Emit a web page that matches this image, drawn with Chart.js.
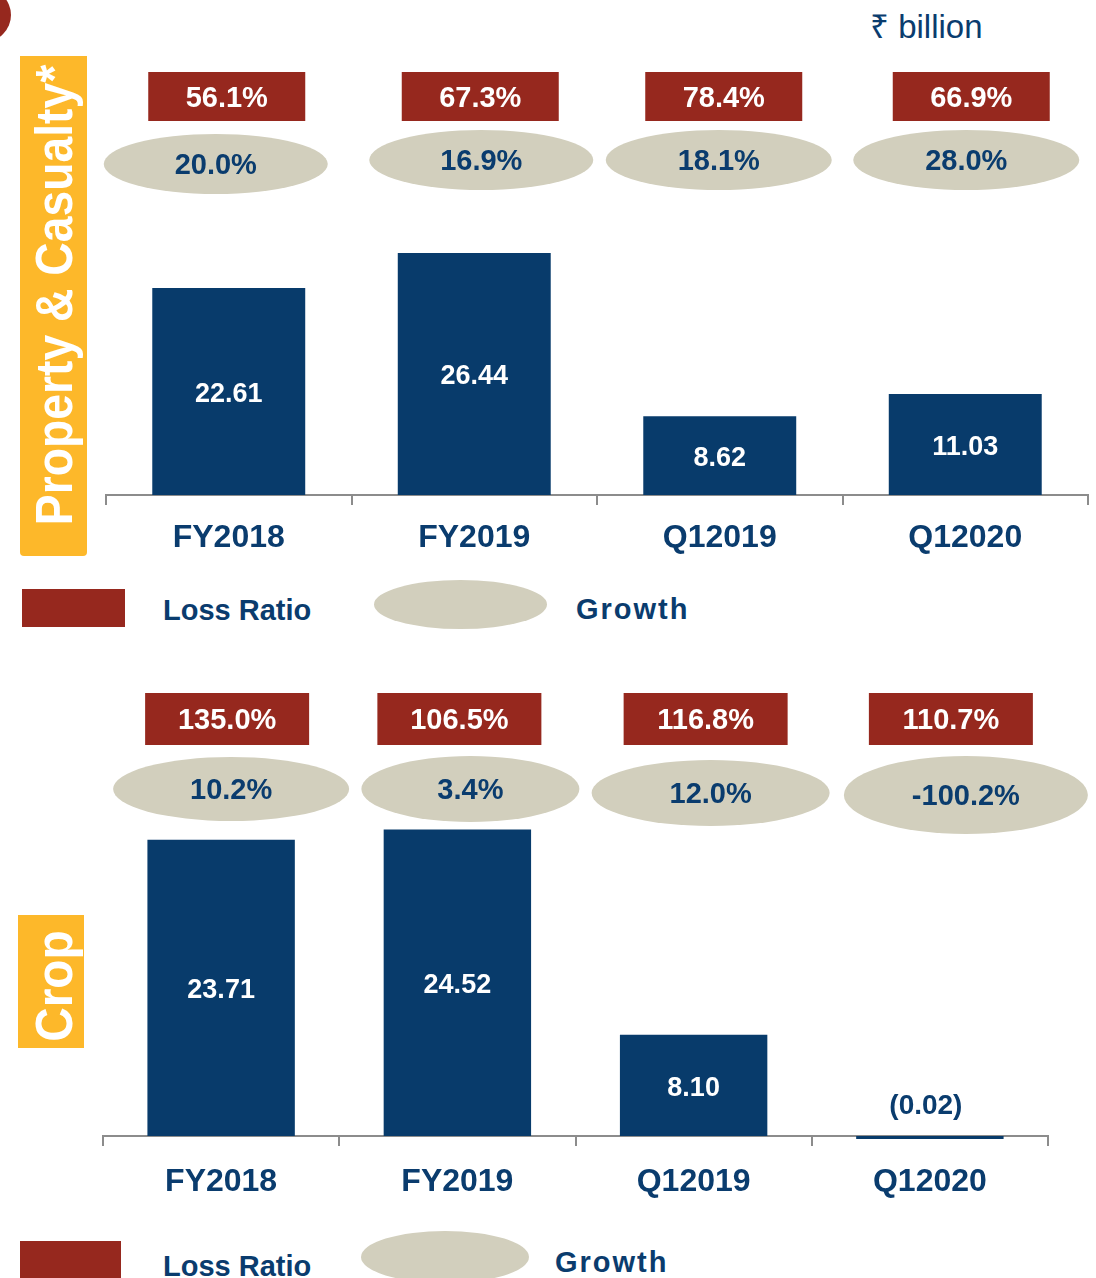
<!DOCTYPE html>
<html>
<head>
<meta charset="utf-8">
<title>Property &amp; Casualty / Crop</title>
<script src="https://cdn.jsdelivr.net/npm/chart.js@4.4.1/dist/chart.umd.min.js"></script>
<style>
  body { margin: 0; background: #fff; font-family: "Liberation Sans", Arial, sans-serif; }
  #page { position: relative; width: 1096px; height: 1278px; overflow: hidden; }
  canvas { position: absolute; left: 0; }
  .dot { position: absolute; left: -43px; top: -12px; width: 54px; height: 54px; border-radius: 50%; background: #96281E; }
  .unit { position: absolute; left: 870px; top: 10px; font-size: 33px; line-height: 33px; color: #0A3C6E; }
  .side { position: absolute; background: #FDB82A; }
  .vtext { position: absolute; width: 0; height: 0; }
  .vtext span { position: absolute; left: 0; top: 0; white-space: nowrap; color: #fff; font-weight: bold;
    font-size: 52px; line-height: 52px; transform: translate(-50%, -50%) rotate(-90deg) scaleX(0.92); }
  .vtext.long span { transform: translate(-50%, -50%) rotate(-90deg) scaleX(0.89); }
  .lg-box { position: absolute; background: #96281E; }
  .lg-ell { position: absolute; background: #D2CFBD; border-radius: 50%; }
  .lg-text { position: absolute; color: #0A3C6E; font-weight: bold; font-size: 29px; line-height: 29px; white-space: nowrap; }
  .lg-text.wide { letter-spacing: 2px; }
</style>
</head>
<body>
<div id="page">
  <div class="dot"></div>
  <div class="unit">₹ billion</div>

  <div class="side" style="left:20px; top:56px; width:67px; height:500px; border-radius:0 0 4px 4px;"></div>
  <div class="vtext long" style="left:54px; top:295px;"><span>Property &amp; Casualty*</span></div>

  <div class="side" style="left:18px; top:915px; width:66px; height:133px;"></div>
  <div class="vtext" style="left:54px; top:986px;"><span>Crop</span></div>

  <canvas id="pc" width="1096" height="560" style="top:0;"></canvas>
  <canvas id="crop" width="1096" height="561" style="top:640px;"></canvas>

  <div class="lg-box" style="left:22px; top:589px; width:103px; height:38px;"></div>
  <div class="lg-text" style="left:163px; top:596px;">Loss Ratio</div>
  <div class="lg-ell" style="left:374px; top:580px; width:173px; height:49px;"></div>
  <div class="lg-text wide" style="left:576px; top:595px;">Growth</div>

  <div class="lg-box" style="left:20px; top:1241px; width:101px; height:40px;"></div>
  <div class="lg-text" style="left:163px; top:1252px;">Loss Ratio</div>
  <div class="lg-ell" style="left:361px; top:1231px; width:168px; height:52px;"></div>
  <div class="lg-text wide" style="left:555px; top:1248px;">Growth</div>
</div>

<script>
const categories = ['FY2018', 'FY2019', 'Q12019', 'Q12020'];

const pcPremium = [22.61, 26.44, 8.62, 11.03];
const pcLossRatio = [56.1, 67.3, 78.4, 66.9];
const pcGrowth = [20.0, 16.9, 18.1, 28.0];

const cropPremium = [23.71, 24.52, 8.10, -0.02];
const cropLossRatio = [135.0, 106.5, 116.8, 110.7];
const cropGrowth = [10.2, 3.4, 12.0, -100.2];

const NAVY = '#083B6B', RED = '#96281E', SAND = '#D2CFBD', INK = '#0A3C6E', GREY = '#8C8C8C';
const FONT = '"Liberation Sans", Arial, sans-serif';
Chart.defaults.font.family = FONT;

function pct(v) { return v.toFixed(1) + '%'; }
function money(v) { return v < 0 ? '(' + Math.abs(v).toFixed(2) + ')' : v.toFixed(2); }

// value written in the middle of each bar (negatives sit above the axis)
const barValues = {
    id: 'barValues',
    afterDatasetsDraw(chart) {
        const ctx = chart.ctx;
        const vals = chart.data.datasets[0].data;
        ctx.save();
        ctx.textAlign = 'center';
        ctx.textBaseline = 'middle';
        chart.getDatasetMeta(0).data.forEach((bar, i) => {
            if (vals[i] < 0) {
                ctx.fillStyle = INK;
                ctx.font = 'bold 28px ' + FONT;
                ctx.fillText(money(vals[i]), bar.x - 4, bar.base - 30);
            } else {
                ctx.fillStyle = '#fff';
                ctx.font = 'bold 27px ' + FONT;
                ctx.fillText(money(vals[i]), bar.x, (bar.y + bar.base) / 2 + 3);
            }
        });
        ctx.restore();
    }
};

// loss ratio box + growth ellipse over each bar
const badges = {
    id: 'badges',
    afterDraw(chart, args, o) {
        const ctx = chart.ctx;
        ctx.save();
        ctx.font = 'bold 29px ' + FONT;
        ctx.textAlign = 'center';
        ctx.textBaseline = 'middle';
        chart.getDatasetMeta(0).data.forEach((bar, i) => {
            const bx = bar.x + o.boxDx[i];
            ctx.fillStyle = RED;
            ctx.fillRect(bx - o.boxW / 2, o.boxTop, o.boxW, o.boxH);
            ctx.fillStyle = '#fff';
            ctx.fillText(pct(o.loss[i]), bx, o.boxTop + o.boxH / 2 + 2);

            const ex = bar.x + o.ellDx[i];
            ctx.fillStyle = SAND;
            ctx.beginPath();
            ctx.ellipse(ex, o.ellCy[i], o.ellRx[i], o.ellRy[i], 0, 0, Math.PI * 2);
            ctx.fill();
            ctx.fillStyle = INK;
            ctx.fillText(pct(o.growth[i]), ex, o.ellCy[i] + 2);
        });
        ctx.restore();
    }
};

function makeChart(id, values, yMax, pad, tickPad, catPct, badgeOpts) {
    return new Chart(document.getElementById(id), {
        type: 'bar',
        data: {
            labels: categories,
            datasets: [{
                data: values,
                backgroundColor: NAVY,
                barPercentage: 1,
                categoryPercentage: catPct,
                minBarLength: 3,
                clip: false
            }]
        },
        options: {
            responsive: false,
            animation: false,
            layout: { padding: pad },
            plugins: {
                legend: { display: false },
                tooltip: { enabled: false },
                badges: badgeOpts
            },
            scales: {
                x: {
                    afterFit(scale) { scale.height = 65; },
                    grid: { offset: true, drawOnChartArea: false, drawTicks: true, tickLength: 10, color: GREY, lineWidth: 2 },
                    border: { display: true, color: GREY, width: 2 },
                    ticks: { color: INK, padding: tickPad, font: { size: 32, weight: 'bold' } }
                },
                y: { display: false, min: 0, max: yMax }
            }
        },
        plugins: [barValues, badges]
    });
}

makeChart('pc', pcPremium, 40, { top: 129, left: 106, right: 8, bottom: 0 }, 14, 0.623, {
    loss: pcLossRatio, growth: pcGrowth,
    boxTop: 72, boxH: 49, boxW: 157, boxDx: [-2, 6, 4, 6],
    ellCy: [164, 160, 160, 160], ellRx: [112, 112, 113, 113], ellRy: [30, 30, 30, 30], ellDx: [-13, 7, -1, 1]
});

makeChart('crop', cropPremium, 30, { top: 121, left: 103, right: 48, bottom: 0 }, 17, 0.624, {
    loss: cropLossRatio, growth: cropGrowth,
    boxTop: 53, boxH: 52, boxW: 164, boxDx: [6, 2, 12, 21],
    ellCy: [149, 149, 153, 155], ellRx: [118, 109, 119, 122], ellRy: [32, 33, 33, 39], ellDx: [10, 13, 17, 36]
});
</script>
</body>
</html>
